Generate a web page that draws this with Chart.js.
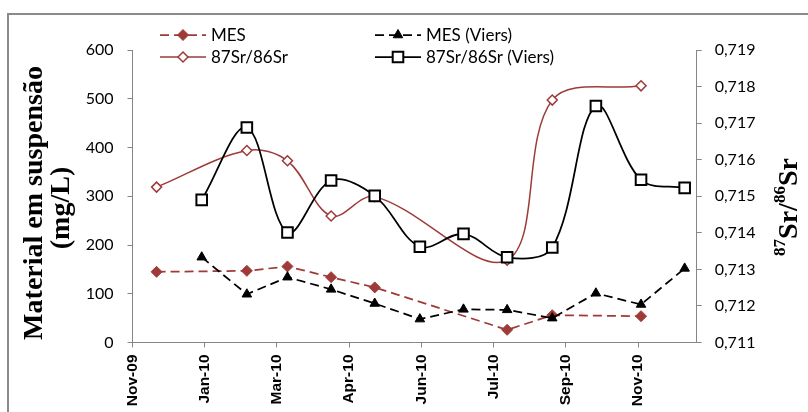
<!DOCTYPE html>
<html>
<head>
<meta charset="utf-8">
<script src="https://cdn.jsdelivr.net/npm/chart.js@4.4.1/dist/chart.umd.min.js"></script>
<style>
  html, body { margin: 0; padding: 0; background: #fff; }
  canvas { display: block; }
</style>
</head>
<body>
<canvas id="chart" width="808" height="412"></canvas>
<script>
// Sampling dates and values
const datesMES = ['2009-12-16', '2010-02-14', '2010-03-13', '2010-04-11', '2010-05-10', '2010-08-06', '2010-09-05', '2010-11-03'];
const mes = [145, 147, 156, 134, 113, 26, 56, 54];
const sr = [0.71525, 0.71625, 0.71597, 0.71446, 0.71499, 0.71325, 0.71763, 0.71802];

const datesViers = ['2010-01-15', '2010-02-14', '2010-03-13', '2010-04-11', '2010-05-10', '2010-06-09', '2010-07-08', '2010-08-06', '2010-09-05', '2010-10-04', '2010-11-03', '2010-12-02'];
const mesViers = [175, 99, 134, 109, 80, 48, 68, 67, 50, 101, 78, 152];
const srViers = [0.71490, 0.71688, 0.71401, 0.71543, 0.71501, 0.71362, 0.71397, 0.71333, 0.71360, 0.71747, 0.71545, 0.71523];

// Date axis: first tick, last day and tick spacing in days
const tickLabels = ['Nov-09', 'Jan-10', 'Mar-10', 'Apr-10', 'Jun-10', 'Jul-10', 'Sep-10', 'Nov-10'];
const axisStart = '2009-11-30';
const axisEnd = '2010-12-10';
const tickStepDays = 48;

const seriesNames = ['MES', 'MES (Viers)', '87Sr/86Sr', '87Sr/86Sr (Viers)'];

// days counted from 1 Jan 2010
function dayNum(s) {
  const [y, m, d] = s.split('-').map(Number);
  return (Date.UTC(y, m - 1, d) - Date.UTC(2010, 0, 1)) / 86400000;
}
function toPoints(dates, values) {
  return dates.map((d, i) => ({ x: dayNum(d), y: values[i] }));
}

const BROWN = '#9E3B38';
const GREY = '#868686';
const DASH = [9, 5];

const xMin = dayNum(axisStart);
const xMax = dayNum(axisEnd);

function drawMarker(ctx, style, x, y, r, fill, stroke, lw) {
  ctx.save();
  ctx.setLineDash([]);
  ctx.beginPath();
  if (style === 'rectRot') {
    ctx.moveTo(x - r, y); ctx.lineTo(x, y - r); ctx.lineTo(x + r, y); ctx.lineTo(x, y + r);
  } else if (style === 'triangle') {
    const h = r * Math.sqrt(3) / 2;
    ctx.moveTo(x, y - r); ctx.lineTo(x + h, y + r / 2); ctx.lineTo(x - h, y + r / 2);
  } else {
    const s = r * Math.SQRT1_2;
    ctx.rect(x - s, y - s, 2 * s, 2 * s);
  }
  ctx.closePath();
  ctx.fillStyle = fill; ctx.fill();
  ctx.lineWidth = lw; ctx.strokeStyle = stroke; ctx.stroke();
  ctx.restore();
}

// frame, legend and axis titles
const decor = {
  id: 'decor',
  afterDraw(chart) {
    const ctx = chart.ctx;
    const ds = chart.data.datasets;

    ctx.save();
    ctx.strokeStyle = '#8a8a8a';
    ctx.lineWidth = 2;
    ctx.strokeRect(8, 14, 820, 420);
    ctx.restore();

    // legend, two columns by two rows
    const slots = [
      { i: 0, x: 160, y: 35 },
      { i: 1, x: 375, y: 35 },
      { i: 2, x: 160, y: 57 },
      { i: 3, x: 375, y: 57 }
    ];
    slots.forEach(s => {
      const d = ds[s.i];
      ctx.save();
      ctx.strokeStyle = d.borderColor;
      ctx.lineWidth = d.borderWidth;
      ctx.setLineDash(d.borderDash || []);
      ctx.beginPath();
      ctx.moveTo(s.x, s.y);
      ctx.lineTo(s.x + 46, s.y);
      ctx.stroke();
      ctx.restore();
      drawMarker(ctx, d.pointStyle, s.x + 23, s.y, d.pointRadius,
        d.pointBackgroundColor, d.pointBorderColor, d.pointBorderWidth);
      ctx.save();
      ctx.fillStyle = '#000';
      ctx.font = '17px Lato';
      ctx.textBaseline = 'middle';
      ctx.textAlign = 'left';
      ctx.fillText(d.label, s.x + 51, s.y + 1);
      ctx.restore();
    });

    // left axis title
    ctx.save();
    ctx.fillStyle = '#000';
    ctx.font = 'bold 28px "Liberation Serif"';
    ctx.textAlign = 'center';
    ctx.textBaseline = 'alphabetic';
    ctx.translate(42, 203);
    ctx.rotate(-Math.PI / 2);
    ctx.fillText('Material em suspensão', 0, 0);
    ctx.fillText('(mg/L)', -5, 27);
    ctx.restore();

    // right axis title with superscript mass numbers
    ctx.save();
    ctx.fillStyle = '#000';
    ctx.translate(797, 207);
    ctx.rotate(-Math.PI / 2);
    const parts = [
      { t: '87', sup: true }, { t: 'Sr/', sup: false },
      { t: '86', sup: true }, { t: 'Sr', sup: false }
    ];
    const big = 'bold 28px "Liberation Serif"';
    const small = 'bold 17px "Liberation Serif"';
    let total = 0;
    parts.forEach(p => { ctx.font = p.sup ? small : big; p.w = ctx.measureText(p.t).width; total += p.w; });
    let cx = -total / 2;
    ctx.textAlign = 'left';
    ctx.textBaseline = 'alphabetic';
    parts.forEach(p => {
      ctx.font = p.sup ? small : big;
      ctx.fillText(p.t, cx, p.sup ? -12 : 0);
      cx += p.w;
    });
    ctx.restore();
  }
};

const tickFont = { family: 'Lato', size: 16 };

new Chart(document.getElementById('chart'), {
  type: 'line',
  data: {
    datasets: [
      {
        label: seriesNames[0],
        data: toPoints(datesMES, mes),
        yAxisID: 'y',
        borderColor: BROWN, borderWidth: 1.75, borderDash: DASH,
        pointStyle: 'rectRot', pointRadius: 5.5,
        pointBackgroundColor: BROWN, pointBorderColor: BROWN, pointBorderWidth: 1,
        tension: 0, order: 3
      },
      {
        label: seriesNames[1],
        data: toPoints(datesViers, mesViers),
        yAxisID: 'y',
        borderColor: '#000', borderWidth: 1.75, borderDash: DASH,
        pointStyle: 'triangle', pointRadius: 5.5,
        pointBackgroundColor: '#000', pointBorderColor: '#000', pointBorderWidth: 1,
        tension: 0, order: 2
      },
      {
        label: seriesNames[2],
        data: toPoints(datesMES, sr),
        yAxisID: 'y2',
        borderColor: BROWN, borderWidth: 1.5,
        pointStyle: 'rectRot', pointRadius: 5,
        pointBackgroundColor: '#fff', pointBorderColor: BROWN, pointBorderWidth: 1.5,
        tension: 0.35, order: 1
      },
      {
        label: seriesNames[3],
        data: toPoints(datesViers, srViers),
        yAxisID: 'y2',
        borderColor: '#000', borderWidth: 1.75,
        pointStyle: 'rect', pointRadius: 7.5,
        pointBackgroundColor: '#fff', pointBorderColor: '#000', pointBorderWidth: 2,
        tension: 0.35, order: 0
      }
    ]
  },
  options: {
    responsive: false,
    animation: false,
    devicePixelRatio: 1,
    layout: { padding: { top: 50, left: 0, right: 0, bottom: 0 } },
    plugins: { legend: { display: false }, tooltip: { enabled: false } },
    scales: {
      x: {
        type: 'linear',
        position: 'bottom',
        min: xMin,
        max: xMax,
        afterBuildTicks(scale) {
          scale.ticks = tickLabels.map((_, i) => ({ value: xMin + i * tickStepDays }));
        },
        afterFit(scale) { scale.height = 69.5; },
        ticks: {
          autoSkip: false,
          minRotation: 90,
          maxRotation: 90,
          padding: 7,
          color: '#000',
          font: { family: 'Liberation Sans', size: 15.5, weight: 'bold' },
          callback: (v, i) => tickLabels[i]
        },
        grid: { drawOnChartArea: false, drawTicks: true, tickLength: 5, color: GREY },
        border: { display: true, color: GREY, width: 1 }
      },
      y: {
        position: 'left',
        min: 0,
        max: 600,
        afterFit(scale) { scale.width = 132.5; },
        ticks: { stepSize: 100, padding: 14, color: '#000', font: tickFont },
        grid: { drawOnChartArea: false, drawTicks: true, tickLength: 5, color: GREY },
        border: { display: true, color: GREY, width: 1 }
      },
      y2: {
        position: 'right',
        min: 0.711,
        max: 0.719,
        afterFit(scale) { scale.width = 111.3; },
        ticks: {
          stepSize: 0.001, padding: 13, color: '#000', font: tickFont,
          callback: v => v.toFixed(3).replace('.', ',')
        },
        grid: { drawOnChartArea: false, drawTicks: true, tickLength: 5, color: GREY },
        border: { display: true, color: GREY, width: 1 }
      }
    }
  },
  plugins: [decor]
});
</script>
</body>
</html>
